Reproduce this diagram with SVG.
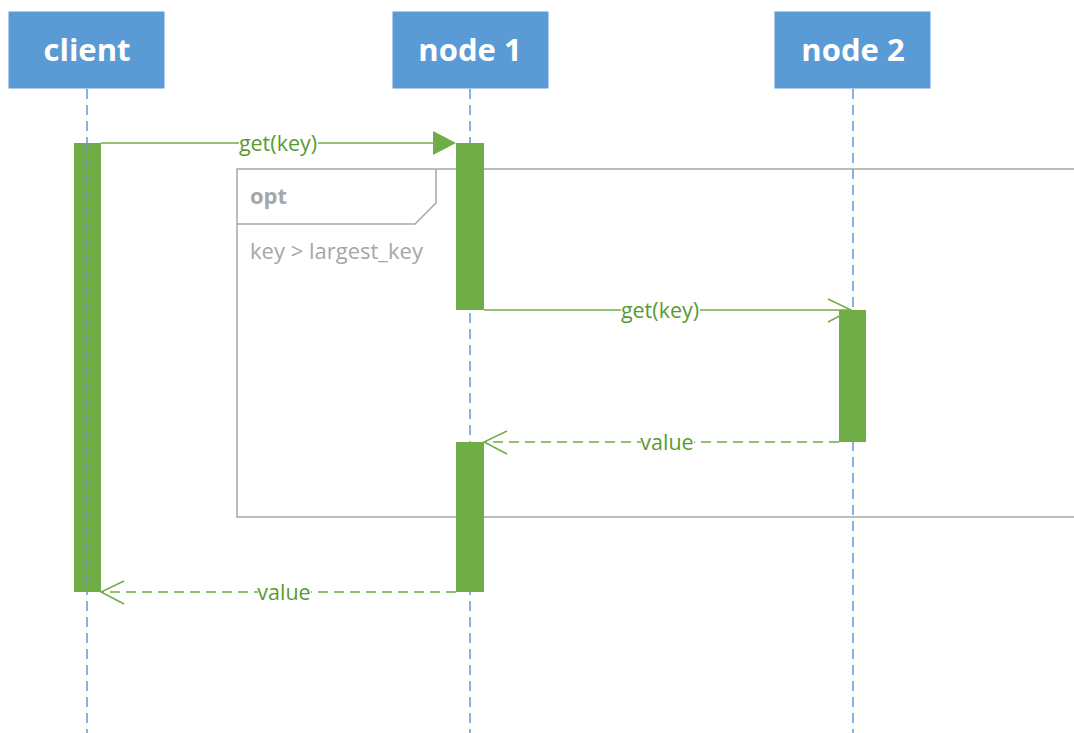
<svg xmlns="http://www.w3.org/2000/svg" width="1074" height="733" viewBox="0 0 1074 733">
<style>
.head{fill:#5B9BD5;stroke:#ffffff;stroke-width:1}
.htxt{font-family:"Open Sans","Noto Sans",sans-serif;font-weight:bold;font-size:31px;fill:#ffffff;text-anchor:middle}
.life{stroke:#5B9BD5;stroke-width:1.5;stroke-dasharray:10,6;fill:none}
.act{fill:#70AD47}
.msg{stroke:#70AD47;stroke-width:1.5;fill:none}
.dash{stroke-dasharray:10,6}
.mtxt{font-family:"Open Sans","Noto Sans",sans-serif;font-size:21.5px;fill:#5A9A32;text-anchor:middle}
.frame{stroke:#A6A6A6;stroke-width:1.5;fill:none}
.ftxt{font-family:"Open Sans","Noto Sans",sans-serif;font-size:22px;fill:#A6A6A6}
</style>
<rect width="1074" height="733" fill="#ffffff"/>
<g id="client">
<rect class="head" x="8" y="11" width="157" height="78"/>
<text class="htxt" x="87" y="61">client</text>
<line class="life" x1="87" y1="89" x2="87" y2="733"/>
</g>
<g id="node1">
<rect class="head" x="392" y="11" width="157" height="78"/>
<text class="htxt" x="470" y="61">node 1</text>
<line class="life" x1="470" y1="89" x2="470" y2="733"/>
</g>
<g id="node2">
<rect class="head" x="774" y="11" width="157" height="78"/>
<text class="htxt" x="853" y="61">node 2</text>
<line class="life" x1="853" y1="89" x2="853" y2="733"/>
</g>
<g id="opt-frame">
<rect class="frame" x="237" y="169" width="850" height="348"/>
<path class="frame" d="M237,224 L415,224 L436,203 L436,169"/>
<text class="ftxt" x="250" y="204" font-weight="bold" font-size="20px">opt</text>
<text class="ftxt" x="250" y="259">key &gt; largest_key</text>
</g>
<g id="activations">
<rect class="act" x="74" y="143" width="27" height="449"/>
<rect class="act" x="456" y="143" width="28" height="167"/>
<rect class="act" x="456" y="442" width="28" height="150"/>
<rect class="act" x="839" y="310" width="27" height="132"/>
<line class="life" x1="87" y1="143" x2="87" y2="592"/>
</g>
<g id="connectors">
<line class="msg" x1="101" y1="143" x2="436" y2="143"/>
<polygon points="433,131 456,143 433,155" fill="#70AD47"/>
<rect x="239" y="130" width="79" height="26" fill="#ffffff"/>
<text class="mtxt" x="278" y="151">get(key)</text>

<line class="msg" x1="484" y1="310" x2="851" y2="310"/>
<polyline class="msg" points="828,299 851,310 828,322"/>
<rect x="621" y="297" width="79" height="26" fill="#ffffff"/>
<text class="mtxt" x="660" y="318">get(key)</text>

<line class="msg dash" x1="839" y1="442" x2="485" y2="442"/>
<polyline class="msg" points="507,431 484,442 507,454"/>
<rect x="641" y="429" width="53" height="26" fill="#ffffff"/>
<text class="mtxt" x="667" y="450">value</text>

<line class="msg dash" x1="456" y1="592" x2="102" y2="592"/>
<polyline class="msg" points="124,581 101,592 124,604"/>
<rect x="258" y="579" width="53" height="26" fill="#ffffff"/>
<text class="mtxt" x="284" y="600">value</text>
</g>
</svg>
